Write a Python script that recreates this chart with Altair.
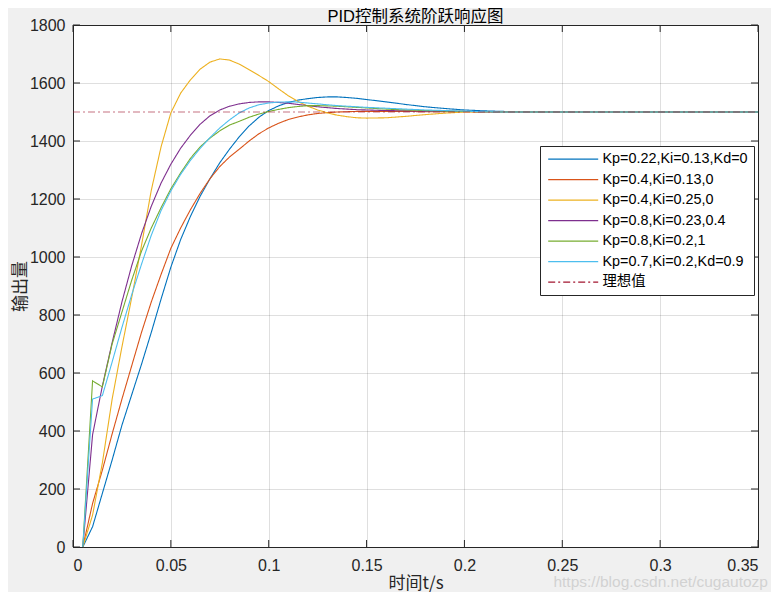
import altair as alt
import pandas as pd

# ---------------- data ----------------
t = [0.005, 0.01, 0.015, 0.02, 0.025, 0.03, 0.035, 0.04, 0.045, 0.05,
     0.055, 0.06, 0.065, 0.07, 0.075, 0.08, 0.085, 0.09, 0.095, 0.10,
     0.105, 0.11, 0.115, 0.12, 0.125, 0.13, 0.135, 0.14, 0.145, 0.15,
     0.16, 0.17, 0.18, 0.19, 0.20, 0.21, 0.22, 0.25, 0.30, 0.35]

s_blue = [0, 70, 185, 300, 420, 525, 630, 740, 855, 965,
          1060, 1140, 1210, 1270, 1325, 1372, 1415, 1452, 1482, 1505,
          1521, 1533, 1541, 1546, 1550, 1552, 1552, 1550, 1547, 1543,
          1535, 1526, 1518, 1512, 1507, 1504, 1502, 1500, 1500, 1500]
s_orange = [0, 150, 265, 390, 510, 625, 740, 845, 940, 1030,
            1100, 1163, 1220, 1270, 1312, 1345, 1372, 1400, 1425, 1445,
            1461, 1474, 1483, 1490, 1495, 1498, 1500, 1501, 1502, 1502,
            1502, 1502, 1501, 1501, 1501, 1500, 1500, 1500, 1500, 1500]
s_yellow = [0, 110, 290, 510, 690, 860, 1040, 1230, 1380, 1497,
            1565, 1611, 1648, 1672, 1683, 1679, 1665, 1646, 1626, 1605,
            1580, 1556, 1536, 1520, 1507, 1497, 1489, 1484, 1480, 1479,
            1480, 1485, 1491, 1496, 1500, 1501, 1501, 1500, 1500, 1500]
s_purple = [0, 387, 555, 705, 845, 970, 1080, 1175, 1255, 1320,
            1375, 1420, 1458, 1487, 1507, 1520, 1528, 1533, 1535, 1535,
            1533, 1530, 1526, 1522, 1518, 1515, 1512, 1510, 1508, 1507,
            1505, 1504, 1503, 1502, 1502, 1501, 1500, 1500, 1500, 1500]
s_green = [0, 573, 552, 700, 810, 920, 1020, 1100, 1170, 1235,
           1290, 1340, 1380, 1410, 1435, 1455, 1468, 1482, 1493, 1502,
           1509, 1515, 1519, 1522, 1522, 1521, 1520, 1518, 1516, 1514,
           1510, 1507, 1505, 1503, 1502, 1501, 1500, 1500, 1500, 1500]
s_cyan = [0, 510, 522, 638, 757, 870, 975, 1075, 1160, 1228,
          1285, 1333, 1375, 1412, 1445, 1473, 1497, 1514, 1525, 1531,
          1534, 1535, 1534, 1531, 1528, 1525, 1522, 1520, 1518, 1516,
          1513, 1510, 1507, 1505, 1503, 1501, 1500, 1500, 1500, 1500]

ref_t = [0, 0.35]
ref_v = [1500, 1500]

names = ["Kp=0.22,Ki=0.13,Kd=0", "Kp=0.4,Ki=0.13,0", "Kp=0.4,Ki=0.25,0",
         "Kp=0.8,Ki=0.23,0.4", "Kp=0.8,Ki=0.2,1", "Kp=0.7,Ki=0.2,Kd=0.9",
         "理想值"]
colors = ["#0072BD", "#D95319", "#EDB120", "#7E2F8E", "#77AC30", "#4DBEEE",
          "#A2142F"]
dashes = [[1, 0], [1, 0], [1, 0], [1, 0], [1, 0], [1, 0], [7, 3, 2, 3]]

x_ticks = [0, 0.05, 0.1, 0.15, 0.2, 0.25, 0.3, 0.35]
y_ticks = [0, 200, 400, 600, 800, 1000, 1200, 1400, 1600, 1800]

title_text = "PID控制系统阶跃响应图"
x_title = "时间t/s"
y_title = "输出量"
watermark = ["https://blog.csdn.net/cugautozp"]

# ---------------- build table ----------------
series = [s_blue, s_orange, s_yellow, s_purple, s_green, s_cyan]
rows = []
for name, vals in zip(names[:6], series):
    for ti, vi in zip(t, vals):
        rows.append({"t": ti, "v": vi, "s": name})
for ti, vi in zip(ref_t, ref_v):
    rows.append({"t": ti, "v": vi, "s": names[6]})
df = pd.DataFrame(rows)

W, H = 685, 522
LAT = "Liberation Sans, Arial, Noto Sans CJK SC"
CJK = "Noto Sans CJK SC, Liberation Sans"
AX = "#262626"

xscale = alt.Scale(domain=[0, 0.35], nice=False)
yscale = alt.Scale(domain=[0, 1800], nice=False)

xaxis = alt.Axis(values=x_ticks, format="~g", ticks=False, labelPadding=10,
                 labelFont=LAT, labelFontSize=16, labelColor=AX,
                 domainColor=AX, gridColor=AX, gridOpacity=0.15,
                 title=x_title, titleFont=CJK, titleFontSize=17,
                 titleFontWeight="normal", titleColor=AX,
                 titleX=W / 2, titleY=36, titleBaseline="middle")
yaxis = alt.Axis(values=y_ticks, format="d", ticks=False, labelPadding=8,
                 labelFont=LAT, labelFontSize=16, labelColor=AX,
                 domainColor=AX, gridColor=AX, gridOpacity=0.15,
                 title=y_title, titleFont=CJK, titleFontSize=17,
                 titleFontWeight="normal", titleColor=AX,
                 titleX=-53, titleY=H / 2, titleAngle=-90,
                 titleBaseline="middle", titleAlign="center")

legend = alt.Legend(title=None, orient="none", legendX=467, legendY=121,
                    symbolType="M-1,0H9", symbolSize=100, symbolStrokeWidth=1.2,
                    symbolOpacity=1, labelFont=LAT, labelFontSize=14.4,
                    labelColor="#000", fillColor="white", strokeColor=AX,
                    padding=6, rowPadding=5.5, labelOffset=42, labelLimit=400)

lines = alt.Chart(df).mark_line(strokeWidth=1.1).encode(
    x=alt.X("t:Q", scale=xscale, axis=xaxis),
    y=alt.Y("v:Q", scale=yscale, axis=yaxis),
    color=alt.Color("s:N", scale=alt.Scale(domain=names, range=colors),
                    sort=names, legend=legend),
    strokeDash=alt.StrokeDash("s:N", scale=alt.Scale(domain=names, range=dashes),
                              sort=names, legend=legend),
    opacity=alt.condition(alt.datum.s == "理想值", alt.value(0.6), alt.value(1)),
    strokeWidth=alt.condition(alt.datum.s == "理想值", alt.value(1.6), alt.value(1.1)),
)

xt = pd.DataFrame({"t": x_ticks})
yt = pd.DataFrame({"v": y_ticks})
TL = 7
tick_b = alt.Chart(xt).mark_rule(color=AX, strokeWidth=1).encode(
    x=alt.X("t:Q", scale=xscale), y=alt.value(H), y2=alt.value(H - TL))
tick_t = alt.Chart(xt).mark_rule(color=AX, strokeWidth=1).encode(
    x=alt.X("t:Q", scale=xscale), y=alt.value(0), y2=alt.value(TL))
tick_l = alt.Chart(yt).mark_rule(color=AX, strokeWidth=1).encode(
    y=alt.Y("v:Q", scale=yscale), x=alt.value(0), x2=alt.value(TL))
tick_r = alt.Chart(yt).mark_rule(color=AX, strokeWidth=1).encode(
    y=alt.Y("v:Q", scale=yscale), x=alt.value(W - TL), x2=alt.value(W))

wm = alt.Chart(pd.DataFrame({"txt": watermark})).mark_text(
    align="right", baseline="middle", font=LAT, fontSize=15.5, color="#d2d2d2"
).encode(x=alt.value(695), y=alt.value(557), text="txt:N")

chart = alt.layer(lines, tick_b, tick_t, tick_l, tick_r, wm).properties(
    width=W, height=H,
    title=alt.TitleParams(title_text, font=LAT, fontSize=16.5, fontWeight="normal",
                          color="#000", offset=3, frame="group", dy=11),
    autosize="none",
    padding={"left": 65, "top": 17, "right": 13, "bottom": 45},
).configure(background="#f0f0f0").configure_view(
    fill="white", stroke=AX, strokeWidth=1
)

chart.save("out.html", embed_options={"renderer": "svg", "actions": False})
